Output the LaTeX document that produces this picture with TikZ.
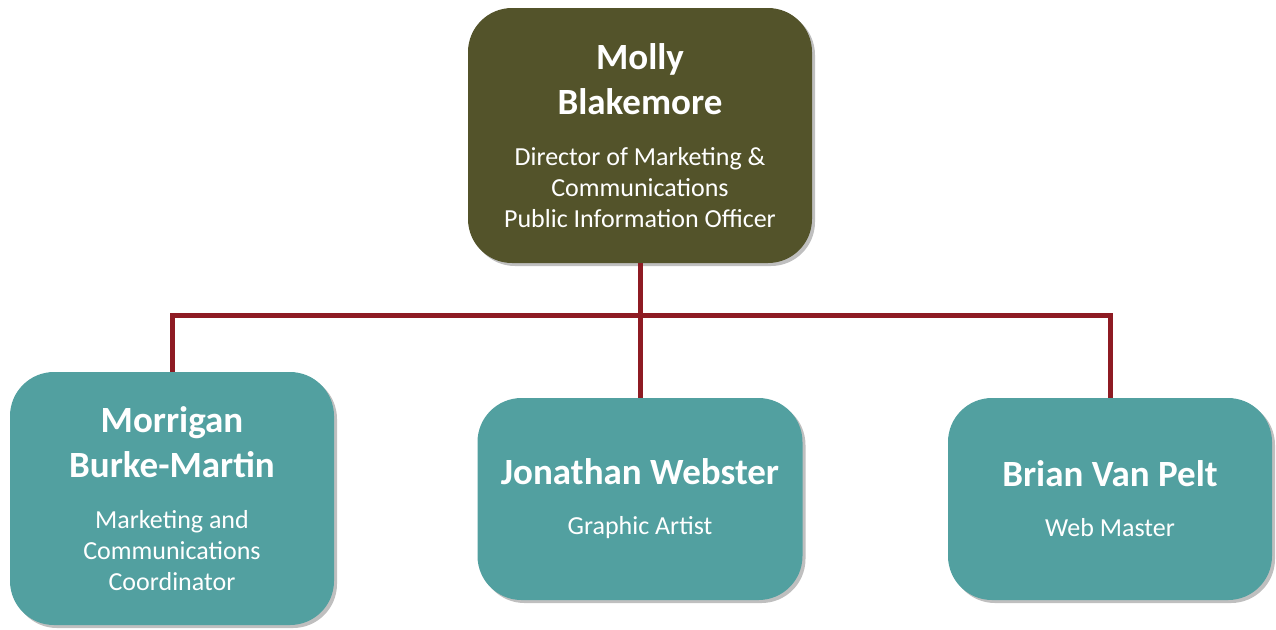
\documentclass[tikz,border=0pt]{standalone}
\usepackage{fontspec}
\setmainfont{Carlito}
\usepackage{tikz}
\usetikzlibrary{shadows}

\definecolor{olivebox}{RGB}{83,83,42}
\definecolor{tealbox}{RGB}{82,160,160}
\definecolor{linkred}{RGB}{142,27,35}

\newcommand{\namefont}{\fontsize{18.5}{22.5}\selectfont\bfseries}
\newcommand{\rolefont}{\fontsize{13}{15.5}\selectfont\mdseries}

\tikzset{
  orgbox/.style={draw=none, rounded corners=22pt, text=white, align=center, inner sep=0pt,
    drop shadow={shadow xshift=1.5pt, shadow yshift=-1.5pt, fill=black, opacity=.25}},
  link/.style={draw=linkred, line width=2.5pt}
}

\begin{document}
\begin{tikzpicture}[x=0.5pt,y=-0.5pt]
\useasboundingbox (0,0) rectangle (1276,629);
\node[orgbox, fill=olivebox, minimum width=172pt, minimum height=127.5pt] (Molly) at (640,135.5)
  {\namefont Molly\\[5.5pt]\namefont Blakemore\\[13.5pt]\rolefont Director of Marketing \&\\[3.5pt]\rolefont Communications\\[3.5pt]\rolefont Public Information Officer};
\node[orgbox, fill=tealbox, minimum width=162pt, minimum height=126.5pt] (Morrigan) at (172,498.5)
  {\namefont Morrigan\\[5.5pt]\namefont Burke-Martin\\[13.5pt]\rolefont Marketing and\\[3.5pt]\rolefont Communications\\[3.5pt]\rolefont Coordinator};
\node[orgbox, fill=tealbox, minimum width=162.5pt, minimum height=101pt] (Jonathan) at (640,499)
  {\namefont Jonathan Webster\\[13pt]\rolefont Graphic Artist};
\node[orgbox, fill=tealbox, minimum width=162pt, minimum height=101pt] (Brian) at (1110,499)
  {\namefont Brian Van Pelt\\[13pt]\rolefont Web Master};
\coordinate (Bus) at (640,315);
\draw[link] (Molly.south) -- (Jonathan.north);
\draw[link] (Morrigan.north) |- (Bus);
\draw[link] (Brian.north) |- (Bus);
\end{tikzpicture}
\end{document}
